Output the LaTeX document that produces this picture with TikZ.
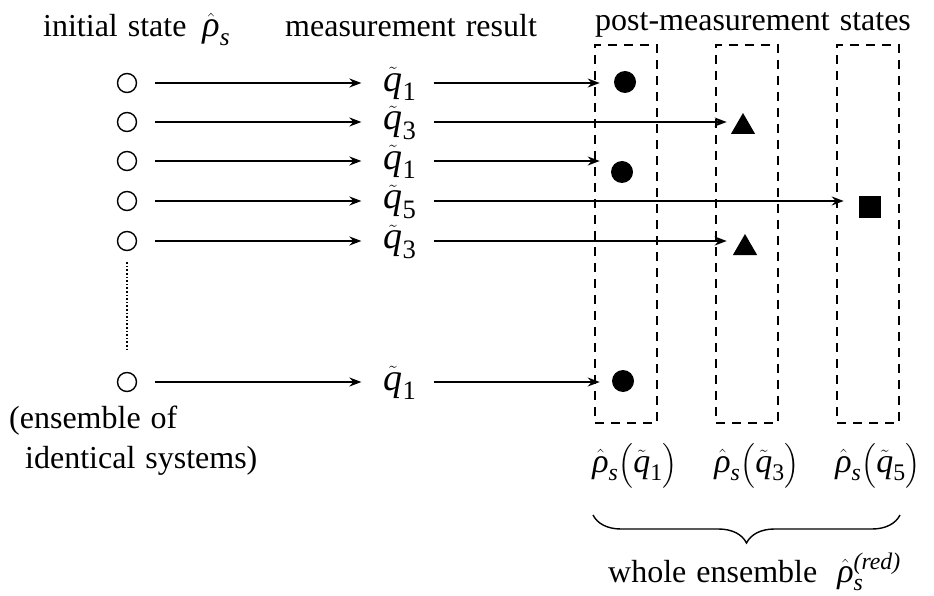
\documentclass[tikz,border=0pt]{standalone}
\usepackage{amsmath}
\usepackage{fontspec}
\setmainfont{Liberation Serif}
\usetikzlibrary{arrows.meta,decorations.pathreplacing,shapes.geometric,calc}
\newcommand{\myrho}{\hat{\text{\itshape ρ}}_{\text{\itshape s}}}
\newcommand{\myq}[1]{\tilde{\text{\itshape q}}_{\text{#1}}}
\newcommand{\widesp}{\spaceskip=10pt\relax}
\begin{document}
\begin{tikzpicture}[x=1pt,y=-1pt,
  every node/.style={font=\fontsize{32}{36}\selectfont\widesp, inner sep=0pt},
  opencirc/.style={circle, draw, line width=1.4pt, minimum size=19pt},
  fillcirc/.style={circle, fill, minimum size=22pt},
  filltri/.style={regular polygon, regular polygon sides=3, fill, minimum size=28pt},
  fillsq/.style={rectangle, fill, minimum size=22pt},
  qlab/.style={minimum width=30pt, font=\fontsize{38}{42}\selectfont},
  rlab/.style={font=\fontsize{34}{40}\selectfont},
  arr/.style={-{Stealth[length=12pt,width=9pt]}, line width=1.8pt},
  dbox/.style={draw, line width=2.6pt, dash pattern=on 9pt off 7pt, minimum width=62pt, minimum height=378pt},
  txt/.style={anchor=base west}]
\useasboundingbox (0,0) rectangle (934,596);

% titles
\node[txt] (t1) at (43,37) {initial state\hspace{16pt}{\fontsize{36}{40}\selectfont$\myrho$}};
\node[txt] (t2) at (285,37) {measurement result};
\node[txt] (t3) at (595,31) {post-measurement states};

% initial systems
\foreach \i/\y in {1/83,2/122,3/161,4/201,5/241,6/382}
  \node[opencirc] (s\i) at (127,\y) {};
\draw[dotted, line width=1.6pt, shorten <=11pt, shorten >=20pt] (s5) -- (s6);

% measurement results
\node[qlab] (m1) at (400,84) {$\myq{1}$};
\node[qlab] (m2) at (400,123) {$\myq{3}$};
\node[qlab] (m3) at (400,162) {$\myq{1}$};
\node[qlab] (m4) at (400,202) {$\myq{5}$};
\node[qlab] (m5) at (400,242) {$\myq{3}$};
\node[qlab] (m6) at (400,383) {$\myq{1}$};

\foreach \i in {1,...,6}
  \draw[arr] ($(s\i.east)+(18,0)$) -- ($(s\i -| m\i.west)+(-22,0)$);

% dashed boxes
\node[dbox] (b1) at (626,234) {};
\node[dbox] (b2) at (747,234) {};
\node[dbox] (b3) at (868,234) {};

% post-measurement states
\node[fillcirc] (p1) at (625,82) {};
\node[filltri] (p2) at (743,127) {};
\node[fillcirc] (p3) at (622,172) {};
\node[fillsq] (p4) at (870,207) {};
\node[filltri] (p5) at (745,248) {};
\node[fillcirc] (p6) at (623,381) {};

\draw[arr] ($(m1.east |- s1)+(17,0)$) -- ($(b1.west |- s1)+(6,0)$);
\draw[arr] ($(m2.east |- s2)+(17,0)$) -- ($(b2.west |- s2)+(12,0)$);
\draw[arr] ($(m3.east |- s3)+(17,0)$) -- ($(b1.west |- s3)+(6,0)$);
\draw[arr] ($(m4.east |- s4)+(17,0)$) -- ($(b3.west |- s4)+(8,0)$);
\draw[arr] ($(m5.east |- s5)+(17,0)$) -- ($(b2.west |- s5)+(12,0)$);
\draw[arr] ($(m6.east |- s6)+(17,0)$) -- ($(b1.west |- s6)+(6,0)$);

% left caption
\node[txt] (c1) at (9,428) {(ensemble of};
\node[txt] (c2) at (25,468) {identical systems)};

% labels under boxes
\node[rlab] (l1) at (635,466) {$\myrho\Bigl(\myq{1}\Bigr)$};
\node[rlab] (l2) at (757,466) {$\myrho\Bigl(\myq{3}\Bigr)$};
\node[rlab] (l3) at (878,466) {$\myrho\Bigl(\myq{5}\Bigr)$};

% brace
\draw[decorate, decoration={brace, mirror, amplitude=28pt}, line width=1.4pt] (593,515) -- (900,515);
\node[txt] (w) at (608,582) {whole ensemble \ {\fontsize{34}{40}\selectfont$\myrho^{\text{\itshape (red)}}$}};
\end{tikzpicture}
\end{document}
